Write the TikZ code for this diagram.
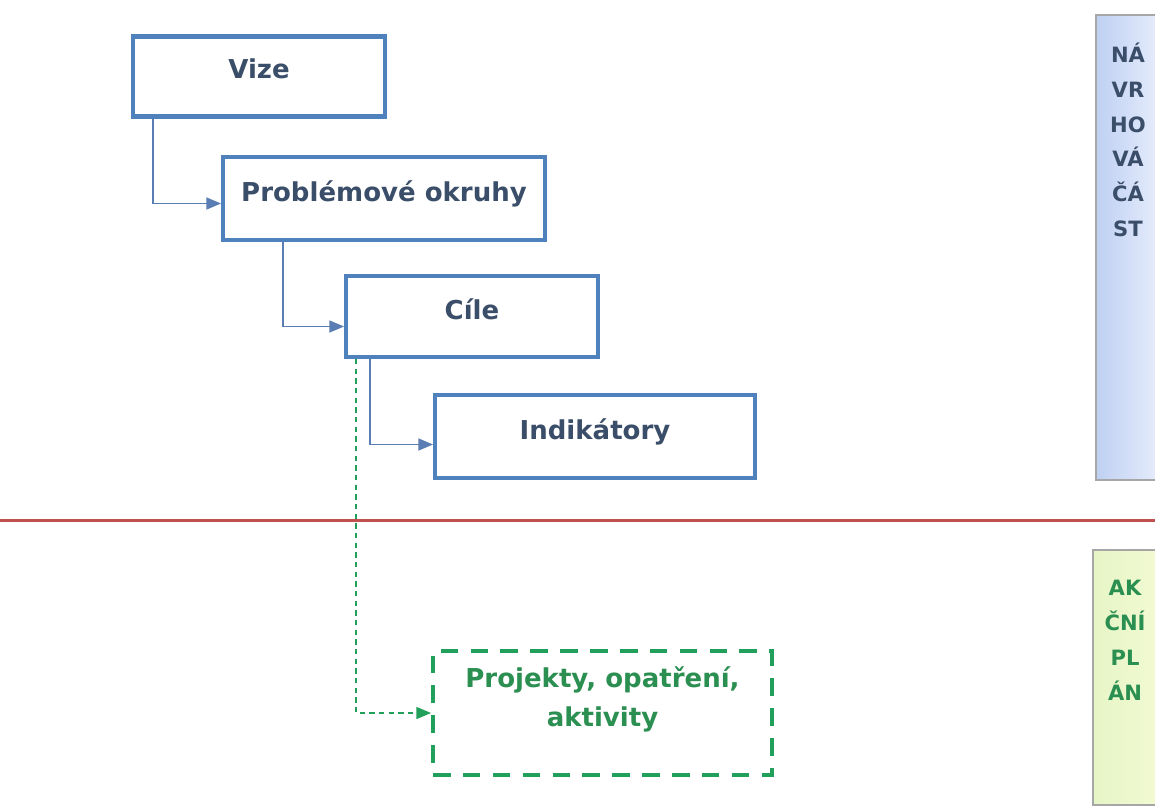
\documentclass[tikz,border=0pt]{standalone}
\usepackage{fontspec}
\setmainfont{DejaVu Sans}
\usetikzlibrary{shapes.geometric, arrows}
\definecolor{boxblue}{HTML}{4F81BD}
\definecolor{lineblue}{HTML}{5A7DB3}
\definecolor{textblue}{HTML}{3B4E69}
\definecolor{dashgreen}{HTML}{20A05A}
\definecolor{textgreen}{HTML}{2A8F50}
\definecolor{sepred}{HTML}{C0504D}
\definecolor{stratleft}{HTML}{BFD0F2}
\definecolor{stratright}{HTML}{E6EDFC}
\definecolor{akceleft}{HTML}{E6F5C6}
\definecolor{akceright}{HTML}{F2FAD2}
\tikzstyle{levelbox} = [rectangle, minimum width=5.04cm, minimum height=1.6cm, text centered, text depth=0.3cm, draw=boxblue, line width=2.3pt, fill=white, text=textblue, font=\fontsize{14.8}{17}\selectfont\bfseries]
\tikzstyle{actionbox} = [rectangle, minimum width=6.78cm, minimum height=2.48cm, align=center, draw=dashgreen, line width=2.3pt, dash pattern=on 10pt off 7pt, fill=white, text=textgreen, font=\fontsize{14.8}{22}\selectfont\bfseries]
\tikzstyle{sidebox} = [rectangle, minimum width=1.28cm, draw=gray!70, line width=0.8pt]
\tikzstyle{sidetext} = [align=center, anchor=north, font=\fontsize{12}{19.8}\selectfont\bfseries]
\tikzstyle{arrow} = [draw=lineblue, line width=0.9pt, ->, >=triangle 45]
\tikzstyle{dasharrow} = [draw=dashgreen, line width=0.9pt, dash pattern=on 3pt off 2.5pt, ->, >=triangle 45]

\begin{document}
\begin{tikzpicture}
\clip (0,0) rectangle (23.1,-16.1);
\fill[white] (0,0) rectangle (23.1,-16.1);
\node (vize) [levelbox] at (5.18,-1.53) {Vize};
\node (okruhy) [levelbox, minimum width=6.44cm, minimum height=1.66cm] at (7.68,-3.97) {Problémové okruhy};
\node (cile) [levelbox, minimum height=1.62cm] at (9.44,-6.33) {Cíle};
\node (indik) [levelbox, minimum width=6.4cm, minimum height=1.66cm] at (11.9,-8.73) {Indikátory};
\node (proj) [actionbox, text depth=0.65cm] at (12.05,-14.26) {Projekty, opatření,\\aktivity};
% pravy sloupec
\node (strat) [sidebox, minimum height=9.3cm, left color=stratleft, right color=stratright] at (22.56,-4.95) {};
\node (strattxt) [sidetext, text=textblue] at ([yshift=-0.45cm]strat.north) {NÁ\\VR\\HO\\VÁ\\ČÁ\\ST};
\node (akce) [sidebox, minimum height=5.1cm, left color=akceleft, right color=akceright] at (22.5,-13.55) {};
\node (akcetxt) [sidetext, text=textgreen] at ([yshift=-0.5cm]akce.north) {AK\\ČNÍ\\PL\\ÁN};
\draw [sepred, line width=1.7pt] (0,-10.4) -- (23.1,-10.4);
\draw [arrow] ([xshift=0.44cm]vize.south west) |- ([yshift=-0.1cm]okruhy.west);
\draw [arrow] ([xshift=1.24cm]okruhy.south west) |- ([yshift=-0.2cm]cile.west);
\draw [arrow] ([xshift=0.52cm]cile.south west) |- ([yshift=-0.16cm]indik.west);
\draw [dasharrow] ([xshift=0.24cm]cile.south west) |- (proj.west);
\end{tikzpicture}
\end{document}
